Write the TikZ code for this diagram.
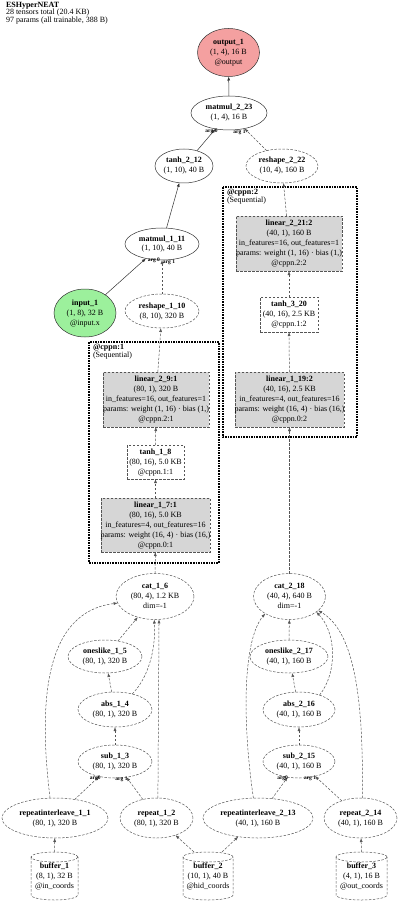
\documentclass[tikz,border=0pt]{standalone}
\usepackage{fontspec}
\setmainfont{Liberation Serif}
\usetikzlibrary{shapes.geometric,arrows.meta}
\definecolor{outfill}{HTML}{F4A0A0}
\definecolor{infill}{HTML}{9CF09C}
\definecolor{boxfill}{HTML}{D6D6D6}
\definecolor{edgecol}{HTML}{333333}
\definecolor{dashcol}{HTML}{555555}
\newcommand{\nlab}[2]{\makebox[0pt]{\fontsize{8}{10}\selectfont\begin{tabular}{@{}c@{}}\textbf{#1}\\#2\end{tabular}}}
\newcommand{\blab}[2]{\makebox[0pt]{\fontsize{8}{10}\selectfont\begin{tabular}{@{}c@{}}\textbf{#1}\\#2\end{tabular}}}
% cylinder outline around a named node: #1 name, #2 x radius
\newcommand{\cylout}[2]{%
  \draw[cylline] ([yshift=-5pt]#1.north) ellipse[x radius=#2, y radius=5pt];
  \draw[cylline] ([yshift=-5pt]#1.north west) -- ([yshift=5pt]#1.south west)
     arc[start angle=180, end angle=360, x radius=#2, y radius=5pt]
     -- ([yshift=-5pt]#1.north east);}
\tikzset{
  x=1pt, y=1pt,
  every node/.style={inner sep=0pt, outer sep=0pt},
  dsh/.style={dash pattern=on 2.5pt off 1.5pt},
  ell/.style={ellipse, draw=edgecol, line width=0.5pt},
  dell/.style={ellipse, draw=dashcol, line width=0.5pt, dsh},
  gbox/.style={rectangle, draw=dashcol, fill=boxfill, line width=0.5pt, dsh},
  wbox/.style={rectangle, draw=dashcol, line width=0.5pt, dsh},
  cyl/.style={rectangle, draw=none, minimum height=48pt},
  cylline/.style={draw=dashcol, line width=0.5pt, dsh},
  edge/.style={draw=edgecol, line width=0.5pt, -{Latex[length=4pt,width=3pt]}},
  dedge/.style={edge, draw=dashcol, dsh},
  argl/.style={font=\fontsize{5.5}{5.5}\selectfont\bfseries, inner sep=0pt},
  clus/.style={draw=black, line width=2.2pt, dash pattern=on 1.6pt off 1pt},
  clab/.style={anchor=north west, align=left, font=\fontsize{8}{7.6}\selectfont},
}
\begin{document}
\begin{tikzpicture}
\useasboundingbox (0,0) rectangle (400,-901);
% title
\node[clab] (title) at (6,-2) {\textbf{ESHyperNEAT}\\28 tensors total (20.4 KB)\\97 params (all trainable, 388 B)};
% clusters
\draw[clus] (89,-342) rectangle (219,-563);
\draw[clus] (223,-187) rectangle (357,-437);
\node[clab] (c1lab) at (93,-344.5) {\textbf{@cppn:1}\\(Sequential)};
\node[clab] (c2lab) at (227,-189.5) {\textbf{@cppn:2}\\(Sequential)};
% nodes
\node[ell, fill=outfill, minimum width=62pt, minimum height=48pt] (out1) at (228.5,-52.5) {\nlab{output\_1}{(1, 4), 16 B\\@output}};
\node[ell, minimum width=76pt, minimum height=34pt] (mm223) at (229,-113) {\nlab{matmul\_2\_23}{(1, 4), 16 B}};
\node[ell, minimum width=58pt, minimum height=34pt] (t212) at (184,-166) {\nlab{tanh\_2\_12}{(1, 10), 40 B}};
\node[dell, minimum width=72pt, minimum height=34pt] (rs222) at (282,-166) {\nlab{reshape\_2\_22}{(10, 4), 160 B}};
\node[ell, minimum width=74pt, minimum height=32pt] (mm111) at (162,-244) {\nlab{matmul\_1\_11}{(1, 10), 40 B}};
\node[ell, fill=infill, minimum width=62pt, minimum height=48pt] (in1) at (85,-313) {\nlab{input\_1}{(1, 8), 32 B\\@input.x}};
\node[dell, minimum width=74pt, minimum height=34pt] (rs110) at (162,-311) {\nlab{reshape\_1\_10}{(8, 10), 320 B}};
\node[gbox, minimum width=106pt, minimum height=55pt] (l2212) at (289,-243.5) {\blab{linear\_2\_21:2}{(40, 1), 160 B\\in\_features=16, out\_features=1\\params: weight (1, 16) · bias (1,)\\@cppn.2:2}};
\node[wbox, minimum width=58pt, minimum height=35pt] (t320) at (289,-314.5) {\blab{tanh\_3\_20}{(40, 16), 2.5 KB\\@cppn.1:2}};
\node[gbox, minimum width=109pt, minimum height=55pt] (l1192) at (289.5,-399.5) {\blab{linear\_1\_19:2}{(40, 16), 2.5 KB\\in\_features=4, out\_features=16\\params: weight (16, 4) · bias (16,)\\@cppn.0:2}};
\node[gbox, minimum width=106pt, minimum height=55pt] (l291) at (156,-399.5) {\blab{linear\_2\_9:1}{(80, 1), 320 B\\in\_features=16, out\_features=1\\params: weight (1, 16) · bias (1,)\\@cppn.2:1}};
\node[wbox, minimum width=57pt, minimum height=34pt] (t18) at (155.5,-462) {\blab{tanh\_1\_8}{(80, 16), 5.0 KB\\@cppn.1:1}};
\node[gbox, minimum width=109pt, minimum height=54pt] (l171) at (155.5,-525) {\blab{linear\_1\_7:1}{(80, 16), 5.0 KB\\in\_features=4, out\_features=16\\params: weight (16, 4) · bias (16,)\\@cppn.0:1}};
\node[dell, minimum width=78pt, minimum height=46pt] (cat16) at (155,-596.5) {\nlab{cat\_1\_6}{(80, 4), 1.2 KB\\dim=-1}};
\node[dell, minimum width=74pt, minimum height=33pt] (ol15) at (105,-656.5) {\nlab{oneslike\_1\_5}{(80, 1), 320 B}};
\node[dell, minimum width=74pt, minimum height=35pt] (abs14) at (115,-709.5) {\nlab{abs\_1\_4}{(80, 1), 320 B}};
\node[dell, minimum width=74pt, minimum height=33pt] (sub13) at (115,-761.5) {\nlab{sub\_1\_3}{(80, 1), 320 B}};
\node[dell, minimum width=106pt, minimum height=40pt] (ri11) at (55,-818) {\nlab{repeatinterleave\_1\_1}{(80, 1), 320 B}};
\node[dell, minimum width=73pt, minimum height=40pt] (rep12) at (156.5,-818) {\nlab{repeat\_1\_2}{(80, 1), 320 B}};
\node[dell, minimum width=110pt, minimum height=40pt] (ri213) at (258,-818) {\nlab{repeatinterleave\_2\_13}{(40, 1), 160 B}};
\node[dell, minimum width=73pt, minimum height=40pt] (rep214) at (360.5,-818) {\nlab{repeat\_2\_14}{(40, 1), 160 B}};
\node[dell, minimum width=72pt, minimum height=46pt] (cat218) at (289.5,-596.5) {\nlab{cat\_2\_18}{(40, 4), 640 B\\dim=-1}};
\node[dell, minimum width=78pt, minimum height=33pt] (ol217) at (289,-656.5) {\nlab{oneslike\_2\_17}{(40, 1), 160 B}};
\node[dell, minimum width=72pt, minimum height=35pt] (abs216) at (299,-709.5) {\nlab{abs\_2\_16}{(40, 1), 160 B}};
\node[dell, minimum width=72pt, minimum height=33pt] (sub215) at (299,-761.5) {\nlab{sub\_2\_15}{(40, 1), 160 B}};
\node[cyl, minimum width=47pt] (b1) at (54.5,-876) {\nlab{buffer\_1}{(8, 1), 32 B\\@in\_coords}};
\node[cyl, minimum width=50pt] (b2) at (208,-876) {\nlab{buffer\_2}{(10, 1), 40 B\\@hid\_coords}};
\node[cyl, minimum width=51pt] (b3) at (361.5,-876) {\nlab{buffer\_3}{(4, 1), 16 B\\@out\_coords}};
\cylout{b1}{23.5pt}
\cylout{b2}{25pt}
\cylout{b3}{25.5pt}
% edges top
\draw[edge] (mm223) -- (out1);
\draw[edge] (t212) -- node[argl, pos=1, xshift=-4pt, yshift=-2pt] {arg 0} (mm223);
\draw[dedge] (rs222) -- node[argl, pos=1, xshift=-5pt, yshift=-3.5pt] {arg 1} (mm223);
\draw[edge] (mm111) -- (t212);
\draw[edge] (in1) -- node[argl, pos=1, xshift=8pt, yshift=-2pt] {arg 0} (mm111);
\draw[dedge] (rs110) -- node[argl, pos=1, xshift=7pt, yshift=-2pt] {arg 1} (mm111);
\draw[dedge] (l2212) -- (rs222);
\draw[dedge] (t320) -- (l2212);
\draw[dedge] (l1192) -- (t320);
\draw[dedge] (cat218) -- (l1192);
\draw[dedge] (l291) -- (rs110);
\draw[dedge] (t18) -- (l291);
\draw[dedge] (l171) -- (t18);
\draw[dedge] (cat16) -- (l171);
% left bottom
\draw[dedge] (ol15) -- (cat16);
\draw[dedge] (abs14) -- (ol15);
\draw[dedge] (abs14.42) .. controls (148,-678) and (156,-650) .. (cat16.268);
\draw[dedge] (ri11.104) .. controls (38,-700) and (45,-612) .. (cat16.190);
\draw[dedge] (rep12.86) -- (cat16.280);
\draw[dedge] (sub13) -- (abs14);
\draw[dedge] (ri11) -- node[argl, pos=1, xshift=-4pt, yshift=-1.5pt] {arg0} (sub13);
\draw[dedge] (rep12) -- node[argl, pos=1, xshift=-5pt, yshift=-2pt] {arg 1} (sub13);
\draw[dedge] (b1.north) -- (ri11);
\draw[dedge] ([xshift=-14pt]b2.north) -- (rep12);
\draw[dedge] ([xshift=14pt]b2.north) -- (ri213);
\draw[dedge] (b3.north) -- (rep214);
% right bottom
\draw[dedge] (ol217) -- (cat218);
\draw[dedge] (abs216) -- (ol217);
\draw[dedge] (abs216.35) .. controls (338,-672) and (336,-632) .. (cat218.330);
\draw[dedge] (rep214.85) .. controls (364,-690) and (352,-630) .. (cat218.334);
\draw[dedge] (ri213.103) .. controls (242,-720) and (243,-640) .. (cat218.215);
\draw[dedge] (sub215) -- (abs216);
\draw[dedge] (ri213) -- node[argl, pos=1, xshift=-5pt, yshift=-1.5pt] {arg0} (sub215);
\draw[dedge] (rep214) -- node[argl, pos=1, xshift=-5pt, yshift=-2.5pt] {arg 1} (sub215);
\end{tikzpicture}
\end{document}
